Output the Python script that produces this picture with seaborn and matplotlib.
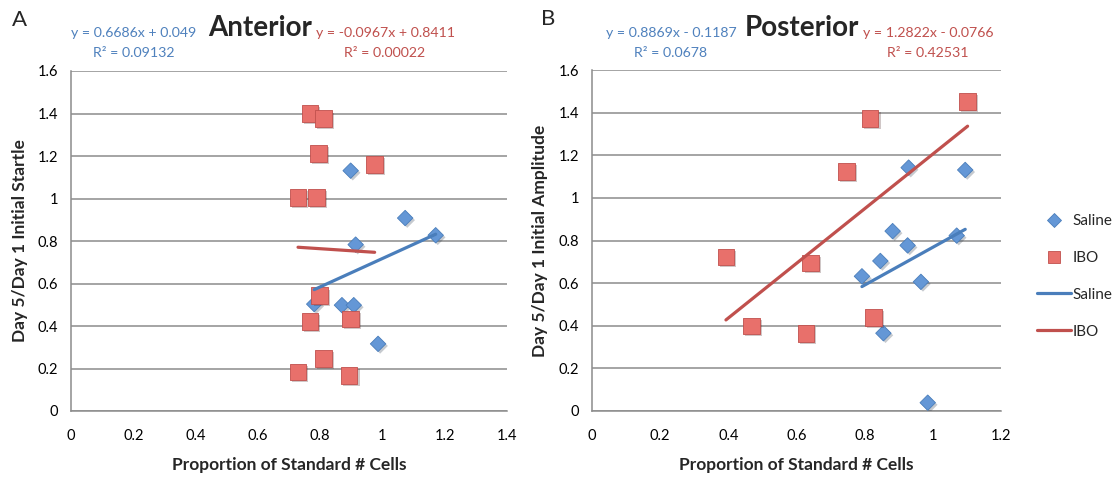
import matplotlib
matplotlib.use("Agg")
import matplotlib.pyplot as plt
import matplotlib.patheffects as pe
from matplotlib.lines import Line2D
import numpy as np
import pandas as pd
import seaborn as sns

# ---- data -------------------------------------------------------------
ant_saline_x = [0.898, 1.073, 1.171, 0.914, 0.781, 0.870, 0.908, 0.986]
ant_saline_y = [1.131, 0.908, 0.827, 0.783, 0.503, 0.498, 0.498, 0.316]
ant_ibo_x = [0.767, 0.810, 0.794, 0.975, 0.729, 0.788, 0.799, 0.767, 0.897, 0.810, 0.729, 0.893]
ant_ibo_y = [1.399, 1.375, 1.212, 1.160, 1.005, 1.005, 0.542, 0.422, 0.433, 0.246, 0.184, 0.168]

post_saline_x = [0.929, 1.095, 0.882, 0.926, 0.846, 0.792, 1.070, 0.965, 0.855, 0.985]
post_saline_y = [1.142, 1.131, 0.844, 0.777, 0.704, 0.632, 0.823, 0.606, 0.365, 0.039]
post_ibo_x = [1.102, 0.816, 0.746, 0.393, 0.642, 0.467, 0.628, 0.826]
post_ibo_y = [1.453, 1.372, 1.123, 0.723, 0.695, 0.399, 0.365, 0.438]

# linear trend fits: (slope, intercept, r squared)
ant_saline_fit = [0.6686, 0.049, 0.09132]
ant_ibo_fit = [-0.0967, 0.8411, 0.00022]
post_saline_fit = [0.8869, -0.1187, 0.0678]
post_ibo_fit = [1.2822, -0.0766, 0.42531]

groups = ["Saline", "IBO"]
panel_titles = ["Anterior", "Posterior"]
panel_letters = ["A", "B"]
y_labels = ["Day 5/Day 1 Initial Startle", "Day 5/Day 1 Initial Amplitude"]
x_label = "Proportion of Standard # Cells"
y_ticks = [0, 0.2, 0.4, 0.6, 0.8, 1, 1.2, 1.4, 1.6]
ant_x_ticks = [0, 0.2, 0.4, 0.6, 0.8, 1, 1.2, 1.4]
post_x_ticks = [0, 0.2, 0.4, 0.6, 0.8, 1, 1.2]

# ---- style ------------------------------------------------------------
sns.set_theme(style="white")
plt.rcParams["font.family"] = ["Lato", "DejaVu Sans"]

BLUE_FILL = "#6497d6"
BLUE_EDGE = "#4a7ebb"
RED_FILL = "#e8706b"
RED_EDGE = "#c0504d"
BLUE_TXT = "#4f81bd"
RED_TXT = "#c0504d"
GRID = "#8c8c8c"

W, H = 1119, 478
fig = plt.figure(figsize=(W / 100, H / 100), dpi=100)


def px_axes(x0, x1, y_top, y_bot):
    return fig.add_axes([x0 / W, 1 - y_bot / H, (x1 - x0) / W, (y_bot - y_top) / H])


ax_a = px_axes(71, 507, 71, 411)
ax_b = px_axes(592, 1001, 70, 411)

shadow = [pe.SimplePatchShadow(offset=(1.5, -1.5), alpha=0.25), pe.Normal()]


def fmt_eq(slope, intercept):
    sign = "+" if intercept >= 0 else "-"
    return f"y = {slope:g}x {sign} {abs(intercept):g}"


def draw_panel(ax, sx, sy, ix, iy, sfit, ifit, xticks, ylab):
    sal = pd.DataFrame({"x": sx, "y": sy})
    ibo = pd.DataFrame({"x": ix, "y": iy})
    sns.scatterplot(data=sal, x="x", y="y", marker="D", s=62, color=BLUE_FILL,
                    edgecolor=BLUE_EDGE, linewidth=0.6, ax=ax, zorder=3)
    sns.scatterplot(data=ibo, x="x", y="y", marker="s", s=145, color=RED_FILL,
                    edgecolor=RED_EDGE, linewidth=0.6, ax=ax, zorder=3)
    for coll in ax.collections:
        coll.set_path_effects(shadow)

    for df, fit, col in ((ibo, ifit, RED_EDGE), (sal, sfit, BLUE_EDGE)):
        xs = np.array([df["x"].min(), df["x"].max()])
        line = pd.DataFrame({"x": xs, "y": fit[0] * xs + fit[1]})
        sns.lineplot(data=line, x="x", y="y", color=col, linewidth=2.3, ax=ax, zorder=4)

    ax.set_xlim(xticks[0], xticks[-1])
    ax.set_ylim(y_ticks[0], y_ticks[-1])
    ax.set_xticks(xticks)
    ax.set_xticklabels([f"{v:g}" for v in xticks])
    ax.set_yticks(y_ticks)
    ax.set_yticklabels([f"{v:g}" for v in y_ticks])
    ax.grid(axis="y", color=GRID, linewidth=1.1)
    ax.grid(axis="x", visible=False)
    ax.set_axisbelow(True)
    for side in ("top", "right"):
        ax.spines[side].set_visible(False)
    for side in ("left", "bottom"):
        ax.spines[side].set_color(GRID)
        ax.spines[side].set_linewidth(1.1)
    ax.tick_params(axis="both", which="major", direction="out", length=4, width=1.1,
                   color=GRID, labelsize=10.5, labelcolor="black")
    ax.tick_params(axis="x", pad=9)
    ax.tick_params(axis="y", pad=5)
    ax.set_xlabel(x_label, fontsize=12.5, fontweight="bold")
    ax.set_ylabel(ylab, fontsize=12.5, fontweight="bold")


draw_panel(ax_a, ant_saline_x, ant_saline_y, ant_ibo_x, ant_ibo_y,
           ant_saline_fit, ant_ibo_fit, ant_x_ticks, y_labels[0])
draw_panel(ax_b, post_saline_x, post_saline_y, post_ibo_x, post_ibo_y,
           post_saline_fit, post_ibo_fit, post_x_ticks, y_labels[1])

ax_a.xaxis.set_label_coords(0.5, -0.135)
ax_b.xaxis.set_label_coords(0.5, -0.135)
ax_a.yaxis.set_label_coords(-0.099, 0.5)
ax_b.yaxis.set_label_coords(-0.108, 0.5)


def ftext(x, y, s, **kw):
    fig.text(x / W, 1 - y / H, s, ha="center", va="center", **kw)


# titles and panel letters
ftext(260, 28, panel_titles[0], fontsize=20, fontweight="bold")
ftext(802, 28, panel_titles[1], fontsize=20, fontweight="bold")
ftext(19, 20, panel_letters[0], fontsize=16)
ftext(548, 19, panel_letters[1], fontsize=16)

# trendline equations
eq_specs = [
    (134, ant_saline_fit, BLUE_TXT),
    (385, ant_ibo_fit, RED_TXT),
    (671, post_saline_fit, BLUE_TXT),
    (928, post_ibo_fit, RED_TXT),
]
for cx, fit, col in eq_specs:
    ftext(cx, 33, fmt_eq(fit[0], fit[1]), fontsize=10.2, color=col)
    ftext(cx, 53, f"R² = {fit[2]:g}", fontsize=10.2, color=col)

# legend
handles = [
    Line2D([], [], linestyle="none", marker="D", markersize=7, markerfacecolor=BLUE_FILL,
           markeredgecolor=BLUE_EDGE, markeredgewidth=0.6),
    Line2D([], [], linestyle="none", marker="s", markersize=8.5, markerfacecolor=RED_FILL,
           markeredgecolor=RED_EDGE, markeredgewidth=0.6),
    Line2D([], [], color=BLUE_EDGE, linewidth=2.3),
    Line2D([], [], color=RED_EDGE, linewidth=2.3),
]
fig.legend(handles, groups + groups, loc="upper left",
           bbox_to_anchor=(1037 / W, 1 - 214 / H), frameon=False, fontsize=11,
           handlelength=2.2, handletextpad=0.1, labelspacing=1.5, borderpad=0,
           borderaxespad=0)

fig.savefig("out.png", dpi=100)
